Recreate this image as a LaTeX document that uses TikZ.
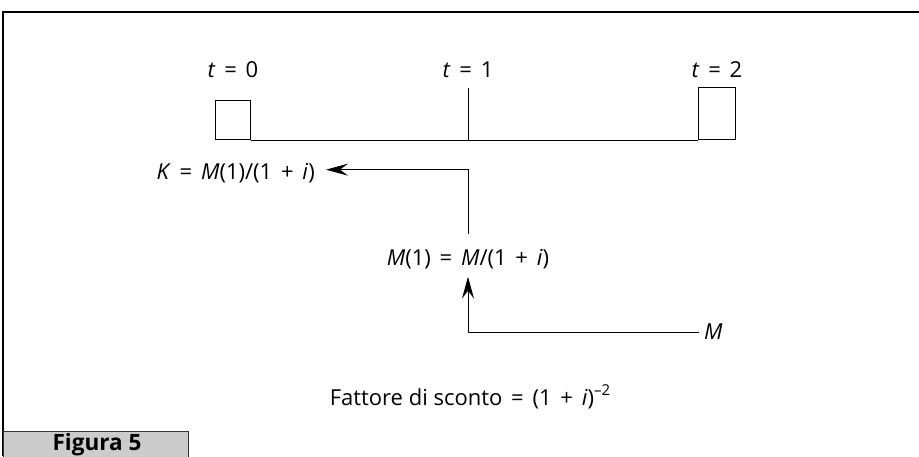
\documentclass[tikz,border=0pt]{standalone}
\usepackage{fontspec}
\setmainfont{Open Sans}
\usetikzlibrary{arrows.meta,positioning}
\tikzset{
>={Stealth[length=22pt,width=12pt,inset=8pt]},
etichetta/.style={inner sep=0pt,font=\fontsize{22}{26}\selectfont},
casella/.style={draw,line width=0.9pt,minimum width=35,inner sep=0pt,anchor=south west},
freccia/.style={->,line width=0.9pt},
asse/.style={line width=0.9pt},
cornice/.style={line width=1.6pt}}
\newcommand{\ug}{\hspace{0.4em}=\hspace{0.4em}}
\newcommand{\piu}{\hspace{0.4em}+\hspace{0.4em}}
\newcommand{\esp}[1]{\raisebox{0.45em}{\fontsize{15}{15}\selectfont #1}}

\begin{document}
\begin{tikzpicture}[x=1pt,y=-1pt]
\useasboundingbox (0,0) rectangle (919,456);

% cornice e didascalia
\draw[cornice] (919,12) -- (3,12) -- (3,456);
\path[draw=black!80,line width=1pt,fill=gray!40] (3,431) rectangle (188,470);
\node[anchor=base,inner sep=0pt,font=\fontsize{22.5}{26}\selectfont\bfseries] (fig) at (97,450) {Figura 5};

% asse dei tempi
\node[casella,minimum height=39] (b0) at (215,140) {};
\node[casella,minimum height=52,minimum width=37] (b2) at (698,140) {};
\coordinate (tick1) at (468,88);
\coordinate (base) at (0,77);
\draw[asse] (b0.south east) -- (b2.south west);
\draw[asse] (tick1) -- (tick1 |- b0.south);

\node[etichetta,anchor=base] (l0) at (b0 |- base) {\textit{t}\ug0};
\node[etichetta,anchor=base] (l1) at (tick1 |- base) {\textit{t}\ug1};
\node[etichetta,anchor=base] (l2) at (b2 |- base) {\textit{t}\ug2};

% sconto
\node[etichetta,anchor=base east] (K) at (315,179) {\textit{K}\ug\textit{M}(1)/(1\piu\textit{i})};
\node[etichetta,anchor=base] (m1) at (468,265) {\textit{M}(1)\ug\textit{M}/(1\piu\textit{i})};
\node[etichetta,anchor=west] (M) at (704,332) {\textit{M}};

\draw[freccia,shorten <=15pt,shorten >=11pt] (m1.north -| tick1) |- ([yshift=3pt]K.east);
\draw[freccia,shorten <=5pt,shorten >=8pt] (M.west) -| (m1.south -| tick1);

\node[etichetta,anchor=base] (fs) at (470,405) {Fattore di sconto\ug(1\piu\textit{i})\esp{–2}};

\end{tikzpicture}
\end{document}
